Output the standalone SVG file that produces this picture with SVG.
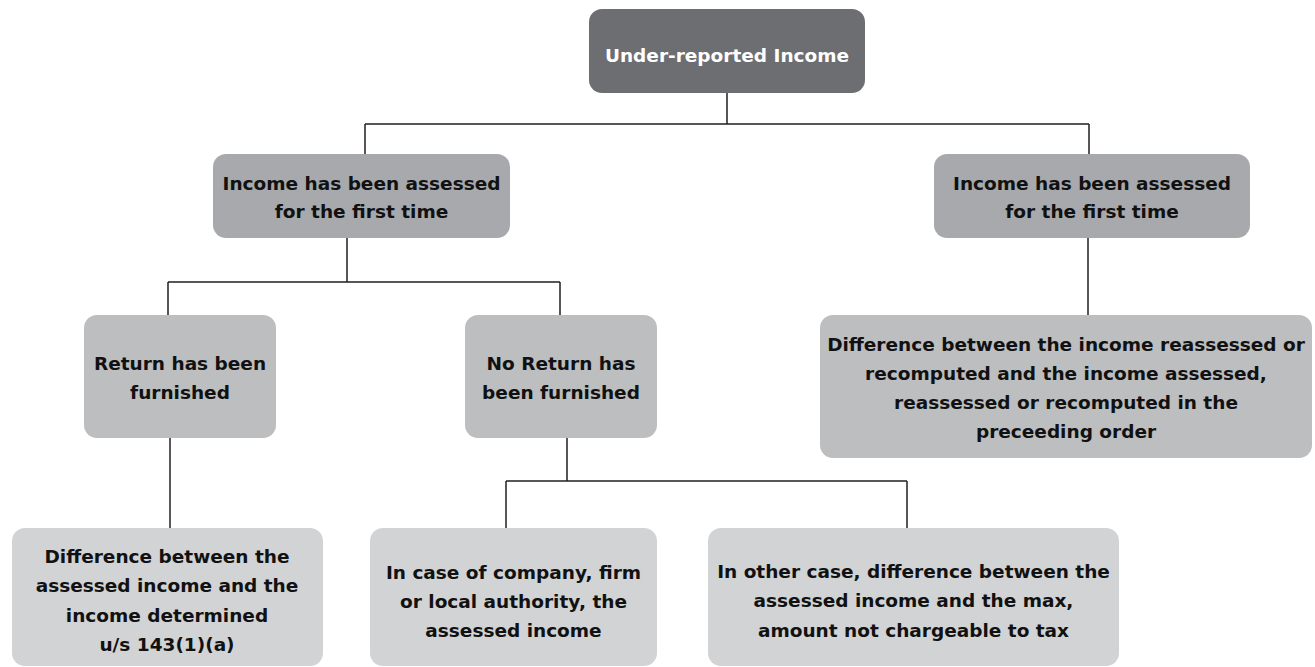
<svg xmlns="http://www.w3.org/2000/svg" width="1315" height="667" viewBox="0 0 1315 667">
<style>
  .t { font-family: "DejaVu Sans", "Liberation Sans", sans-serif; font-weight: bold; font-size: 18.5px; text-anchor: middle; fill: #111111; }
  .w { fill: #ffffff; }
  .c0 { fill: #6d6e71; }
  .c1 { fill: #a7a9ac; }
  .c2 { fill: #bcbec0; }
  .c3 { fill: #d1d3d4; }
  .ln { fill: none; stroke: #231f20; stroke-width: 1.5; }
</style>
<rect width="1315" height="667" fill="#ffffff"/>
<g id="connectors">
  <path class="ln" d="M727 93 V124 M365 124 H1089 M365 124 V154 M1089 124 V154"/>
  <path class="ln" d="M347 238 V282 M168 282 H560 M168 282 V315 M560 282 V315"/>
  <path class="ln" d="M1088 238 V315"/>
  <path class="ln" d="M170 438 V528"/>
  <path class="ln" d="M567 438 V481 M506 481 H907 M506 481 V528 M907 481 V528"/>
</g>
<g id="root">
  <rect class="c0" x="589" y="9" width="276" height="84" rx="13"/>
  <text class="t w" x="727" y="62">Under-reported Income</text>
</g>
<g id="assessed-left">
  <rect class="c1" x="213" y="154" width="297" height="84" rx="13"/>
  <text class="t" x="361.5" y="190">Income has been assessed</text>
  <text class="t" x="361.5" y="218">for the first time</text>
</g>
<g id="assessed-right">
  <rect class="c1" x="934" y="154" width="316" height="84" rx="13"/>
  <text class="t" x="1092" y="190">Income has been assessed</text>
  <text class="t" x="1092" y="218">for the first time</text>
</g>
<g id="return-furnished">
  <rect class="c2" x="84" y="315" width="192" height="123" rx="13"/>
  <text class="t" x="180" y="370">Return has been</text>
  <text class="t" x="180" y="399">furnished</text>
</g>
<g id="no-return">
  <rect class="c2" x="465" y="315" width="192" height="123" rx="13"/>
  <text class="t" x="561" y="370">No Return has</text>
  <text class="t" x="561" y="399">been furnished</text>
</g>
<g id="difference-reassessed">
  <rect class="c2" x="820" y="315" width="492" height="143" rx="13"/>
  <text class="t" x="1066" y="351">Difference between the income reassessed or</text>
  <text class="t" x="1066" y="380">recomputed and the income assessed,</text>
  <text class="t" x="1066" y="409">reassessed or recomputed in the</text>
  <text class="t" x="1066" y="438">preceeding order</text>
</g>
<g id="difference-143">
  <rect class="c3" x="12" y="528" width="311" height="138" rx="13"/>
  <text class="t" x="167" y="563">Difference between the</text>
  <text class="t" x="167" y="592">assessed income and the</text>
  <text class="t" x="167" y="622">income determined</text>
  <text class="t" x="167" y="651">u/s 143(1)(a)</text>
</g>
<g id="company-firm">
  <rect class="c3" x="370" y="528" width="287" height="138" rx="13"/>
  <text class="t" x="513.5" y="579">In case of company, firm</text>
  <text class="t" x="513.5" y="608">or local authority, the</text>
  <text class="t" x="513.5" y="637">assessed income</text>
</g>
<g id="other-case">
  <rect class="c3" x="708" y="528" width="411" height="138" rx="13"/>
  <text class="t" x="913.5" y="578">In other case, difference between the</text>
  <text class="t" x="913.5" y="607">assessed income and the max,</text>
  <text class="t" x="913.5" y="637">amount not chargeable to tax</text>
</g>
</svg>
